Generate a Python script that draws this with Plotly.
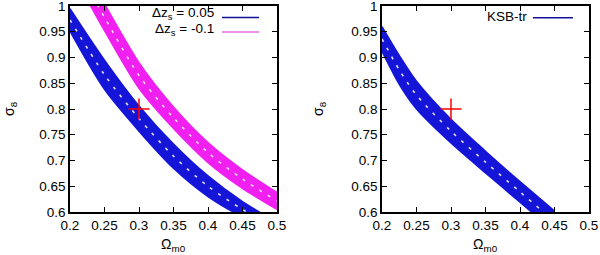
import numpy as np
import plotly.graph_objects as go
from plotly.subplots import make_subplots

# ---- data ----
# left panel, blue band (dz_s = 0.05)
om_blue_l = [0.2, 0.25, 0.3, 0.35, 0.4, 0.45, 0.5]
s8_blue_l_lo = [0.951, 0.838, 0.757, 0.685, 0.630, 0.590, 0.557]
s8_blue_l_hi = [0.995, 0.895, 0.806, 0.732, 0.670, 0.620, 0.580]
# left panel, magenta band (dz_s = -0.1)
om_mag_l = [0.225, 0.25, 0.3, 0.35, 0.4, 0.45, 0.5]
s8_mag_l_lo = [1.012, 0.952, 0.840, 0.762, 0.696, 0.646, 0.605]
s8_mag_l_hi = [1.062, 1.004, 0.890, 0.804, 0.735, 0.682, 0.638]
# right panel, blue band (KSB-tr)
om_blue_r = [0.2, 0.225, 0.25, 0.3, 0.35, 0.4, 0.45]
s8_blue_r_lo = [0.912, 0.848, 0.800, 0.734, 0.676, 0.619, 0.562]
s8_blue_r_hi = [0.960, 0.904, 0.854, 0.780, 0.718, 0.659, 0.602]
# fiducial point
fid_om = [0.3]
fid_s8 = [0.8]

x_ticks = [0.2, 0.25, 0.3, 0.35, 0.4, 0.45, 0.5]
x_ticklabels = ["0.2", "0.25", "0.3", "0.35", "0.4", "0.45", "0.5"]
y_ticks = [0.6, 0.65, 0.7, 0.75, 0.8, 0.85, 0.9, 0.95, 1.0]
y_ticklabels = ["0.6", "0.65", "0.7", "0.75", "0.8", "0.85", "0.9", "0.95", "1"]

legend_left = ["Δz<sub>s</sub> = 0.05", "Δz<sub>s</sub> = -0.1"]
legend_right = ["KSB-tr"]

BLUE = "#1515d8"
MAG = "#f020f0"
BLUE_LEG = "#10109a"
MAG_LEG = "#e070e0"
FONT = "Liberation Sans"
FS = 13.5
W, H = 600, 255

fig = make_subplots(rows=1, cols=2)


def band(om, lo, hi, color, col):
    fig.add_trace(go.Scatter(x=om, y=lo, mode="lines", line=dict(color=color, width=1.5, shape="spline", smoothing=0.8),
                             showlegend=False, hoverinfo="skip"), row=1, col=col)
    fig.add_trace(go.Scatter(x=om, y=hi, mode="lines", line=dict(color=color, width=1.5, shape="spline", smoothing=0.8),
                             fill="tonexty", fillcolor=color, showlegend=False, hoverinfo="skip"), row=1, col=col)
    mid = (np.array(lo) + np.array(hi)) / 2.0
    fig.add_trace(go.Scatter(x=om, y=mid, mode="lines",
                             line=dict(color="rgba(255,255,255,0.85)", width=1.6, shape="spline", smoothing=0.8,
                                       dash="3px,7px"),
                             showlegend=False, hoverinfo="skip"), row=1, col=col)


band(om_mag_l, s8_mag_l_lo, s8_mag_l_hi, MAG, 1)
band(om_blue_l, s8_blue_l_lo, s8_blue_l_hi, BLUE, 1)
band(om_blue_r, s8_blue_r_lo, s8_blue_r_hi, BLUE, 2)

for c in (1, 2):
    fig.add_trace(go.Scatter(x=fid_om, y=fid_s8, mode="markers",
                             marker=dict(symbol="cross-thin", size=15, line=dict(color="#ff0000", width=1.5)),
                             showlegend=False, hoverinfo="skip"), row=1, col=c)

axis_common = dict(showgrid=False, zeroline=False, showline=True, linecolor="black", linewidth=1.5,
                   mirror="ticks", ticks="inside", ticklen=5, tickwidth=1, tickcolor="black",
                   ticklabeloverflow="allow", automargin=False,
                   tickfont=dict(family=FONT, size=FS, color="black"))

y0 = 1 - 212 / H
y1 = 1 - 6 / H
yr = [0.6, 1.0000001]
xr = [0.2, 0.5000001]
fig.update_layout(
    width=W, height=H, margin=dict(l=0, r=0, t=0, b=0, pad=0), autosize=False,
    paper_bgcolor="white", plot_bgcolor="white",
    font=dict(family=FONT, size=FS, color="black"),
    xaxis=dict(domain=[70 / W, 277 / W], range=xr, tickvals=x_ticks, ticktext=x_ticklabels, **axis_common),
    xaxis2=dict(domain=[382 / W, 589 / W], range=xr, tickvals=x_ticks, ticktext=x_ticklabels, **axis_common),
    yaxis=dict(domain=[y0, y1], range=yr, tickvals=y_ticks, ticktext=y_ticklabels, **axis_common),
    yaxis2=dict(domain=[y0, y1], range=yr, tickvals=y_ticks, ticktext=y_ticklabels, **axis_common),
)

ann = []
shapes = []
for xc in (173.5 / W, 485.5 / W):
    ann.append(dict(x=xc, y=1 - 245 / H, xref="paper", yref="paper", text="Ω<sub>m0</sub>", showarrow=False,
                    xanchor="center", yanchor="middle", font=dict(family=FONT, size=14)))
for xc in (10 / W, 319 / W):
    ann.append(dict(x=xc, y=1 - 109 / H, xref="paper", yref="paper", text="σ<sub>8</sub>", showarrow=False,
                    textangle=-90, xanchor="center", yanchor="middle", font=dict(family=FONT, size=14)))

# legends (text then line, gnuplot style)
leg_rows = [(legend_left[0], 216, 13.5, 222, 259, 17.5, BLUE_LEG),
            (legend_left[1], 216, 29, 222, 259, 32, MAG_LEG),
            (legend_right[0], 529, 16, 533, 573, 17.7, BLUE_LEG)]
for txt, xrt, yt, lx0, lx1, ly, col in leg_rows:
    ann.append(dict(x=xrt / W, y=1 - yt / H, xref="paper", yref="paper", text=txt, showarrow=False,
                    xanchor="right", yanchor="middle", font=dict(family=FONT, size=FS)))
    shapes.append(dict(type="line", xref="paper", yref="paper", x0=lx0 / W, x1=lx1 / W,
                       y0=1 - ly / H, y1=1 - ly / H, line=dict(color=col, width=1.5)))

fig.update_layout(annotations=ann, shapes=shapes)
fig.write_html("out.html", config={"displayModeBar": False},
               post_script="document.body.style.margin='0';document.body.style.overflow='hidden';")
